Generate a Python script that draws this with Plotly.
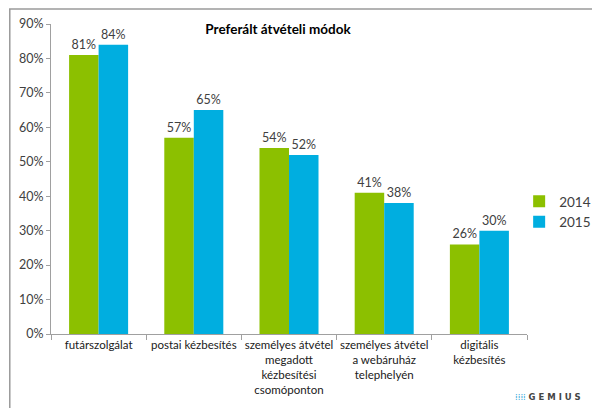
import plotly.graph_objects as go

categories = [
    "futárszolgálat",
    "postai kézbesítés",
    "személyes átvétel<br>megadott<br>kézbesítési<br>csomóponton",
    "személyes átvétel<br>a webáruház<br>telephelyén",
    "digitális<br>kézbesítés",
]
series_names = ["2014", "2015"]
values_2014 = [81, 57, 54, 41, 26]
values_2015 = [84, 65, 52, 38, 30]
y_ticks = [0, 10, 20, 30, 40, 50, 60, 70, 80, 90]

colors = ["#8CC000", "#00AEE0"]
FONT = "Lato, Open Sans, sans-serif"

L, R, T, B = 43, 528, 16, 326
PW, PH = R - L, B - T

fig = go.Figure()
for name, vals, col in zip(series_names, [values_2014, values_2015], colors):
    fig.add_trace(go.Bar(
        x=categories, y=[v / 100 for v in vals], name=name,
        marker=dict(color=col, line=dict(width=0)),
        text=[f"{v}%" for v in vals], textposition="outside",
        textfont=dict(size=12.5, color="#404040"), cliponaxis=False,
    ))

fig.update_layout(
    width=600, height=408,
    margin=dict(l=L, r=600 - R, t=T, b=408 - B),
    paper_bgcolor="white", plot_bgcolor="white",
    barmode="group", bargap=0.38, bargroupgap=0,
    font=dict(family=FONT, size=12.5, color="#404040"),
    title=dict(text="<b>Preferált átvételi módok</b>", xref="container", yref="container",
               x=270/600, y=1-21/408, xanchor="center", yanchor="middle",
               font=dict(size=13.5, color="#000000", family=FONT)),
    legend=dict(x=(520 - L) / PW, y=(B - 204) / PH, xanchor="left", yanchor="middle",
                font=dict(size=13.5, color="#404040"), tracegroupgap=6,
                itemwidth=30, bgcolor="rgba(0,0,0,0)"),
    showlegend=True,
)
fig.update_yaxes(range=[0, 0.9], tickvals=[t / 100 for t in y_ticks],
                 ticktext=[f"{t}%" for t in y_ticks], showgrid=False,
                 showline=True, linecolor="#A0A0A0", linewidth=1,
                 ticks="outside", ticklen=4, tickcolor="#A0A0A0",
                 tickfont=dict(size=12.5, color="#404040"), zeroline=False,
                 automargin=False)
fig.update_xaxes(showline=True, linecolor="#A0A0A0", linewidth=1,
                 ticks="outside", ticklen=5, tickcolor="#A0A0A0",
                 tickson="boundaries", tickangle=0, automargin=False,
                 tickfont=dict(size=11.5, color="#202020"))

fig.add_shape(type="rect", xref="paper", yref="paper",
              x0=(1 - L) / PW, x1=(598 - L) / PW, y0=(B - 406) / PH, y1=(B - 1) / PH,
              line=dict(color="#9A9A9A", width=1.5), fillcolor="rgba(0,0,0,0)", layer="below")
fig.add_annotation(text="<span style='color:#3AA8DA'>⁞⁞⁞⁞</span> <b>G E M I U S</b>", xref="paper", yref="paper",
                   x=(549 - L) / PW, y=(B - 389) / PH, xanchor="center", yanchor="middle",
                   showarrow=False, font=dict(size=8.5, color="#444444", family="DejaVu Sans"))

fig.write_html("out.html")
